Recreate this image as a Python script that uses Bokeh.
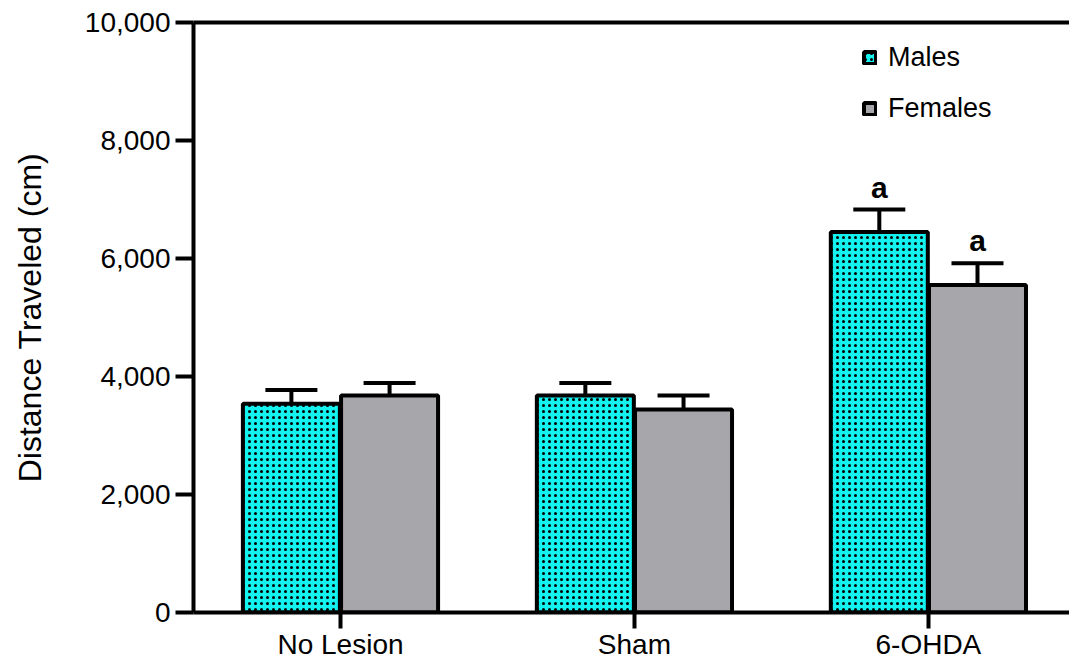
from bokeh.plotting import figure
from bokeh.models import (Range1d, FixedTicker, NumeralTickFormatter, LinearAxis,
                          Whisker, TeeHead, ColumnDataSource, Legend, LegendItem)
from bokeh.core.properties import value
from bokeh.embed import file_html
from bokeh.resources import INLINE

# Open-field locomotion by lesion group and sex
groups = ["No Lesion", "Sham", "6-OHDA"]
males_mean = [3540, 3680, 6450]
males_err_top = [3770, 3890, 6830]
females_mean = [3680, 3440, 5550]
females_err_top = [3890, 3680, 5920]
males_letters = ["", "", "a"]
females_letters = ["", "", "a"]
y_ticks = [0, 2000, 4000, 6000, 8000, 10000]

FONT = "Liberation Sans"
CYAN = "#14F2F0"
GREY = "#A7A7AB"

centers = [i + 0.5 for i in range(len(groups))]
offset = 0.167
bar_w = 0.33

p = figure(width=1069, height=664, output_backend="svg", toolbar_location=None,
           x_range=Range1d(0, 2.98), y_range=Range1d(0, 10000),
           min_border_left=193, min_border_right=0, min_border_top=22,
           min_border_bottom=52, x_axis_type=None, y_axis_type=None)
p.grid.visible = False
p.outline_line_color = None
p.background_fill_color = "white"
p.border_fill_color = "white"

males = ColumnDataSource(dict(x=[c - offset for c in centers], top=males_mean,
                              err=males_err_top, lab=males_letters))
females = ColumnDataSource(dict(x=[c + offset for c in centers], top=females_mean,
                                err=females_err_top, lab=females_letters))

# upper error bars (drawn under the bars)
for src in (males, females):
    w = Whisker(source=src, base="x", lower="top", upper="err", dimension="height",
                line_color="black", line_width=4, lower_head=None,
                upper_head=TeeHead(size=52, line_width=4, line_color="black"),
                level="underlay")
    p.add_layout(w)

rm = p.vbar(x="x", top="top", width=bar_w, source=males, fill_color=CYAN,
            line_color="black", line_width=4, hatch_pattern="dot",
            hatch_color="black", hatch_scale=6, hatch_weight=1.5)
rf = p.vbar(x="x", top="top", width=bar_w, source=females, fill_color=GREY,
            line_color="black", line_width=4)

# significance letters above error bars
for src in (males, females):
    p.text(x="x", y="err", text="lab", source=src, text_align="center",
           text_baseline="bottom", y_offset=-6, text_font=value(FONT),
           text_font_size="30px", text_font_style="bold", text_color="black")

# axes
yax = LinearAxis(ticker=FixedTicker(ticks=y_ticks),
                 formatter=NumeralTickFormatter(format="0,0"),
                 axis_label="Distance Traveled (cm)")
yax.axis_line_width = 4
yax.major_tick_line_width = 4
yax.major_tick_out = 18
yax.major_tick_in = 0
yax.minor_tick_line_color = None
yax.major_label_text_font = FONT
yax.major_label_text_font_size = "28px"
yax.major_label_text_color = "black"
yax.major_label_standoff = 5
yax.axis_label_text_font = FONT
yax.axis_label_text_font_size = "32px"
yax.axis_label_text_font_style = "normal"
yax.axis_label_text_color = "black"
yax.axis_label_standoff = 34
p.add_layout(yax, "left")

xax = LinearAxis(ticker=FixedTicker(ticks=centers),
                 major_label_overrides={c: g for c, g in zip(centers, groups)})
xax.axis_line_width = 4
xax.major_tick_line_width = 4
xax.major_tick_out = 16
xax.major_tick_in = 0
xax.minor_tick_line_color = None
xax.major_label_text_font = FONT
xax.major_label_text_font_size = "28px"
xax.major_label_text_color = "black"
xax.major_label_standoff = 0
p.add_layout(xax, "below")

top = LinearAxis(ticker=FixedTicker(ticks=[]))
top.axis_line_width = 4
top.major_tick_line_color = None
top.minor_tick_line_color = None
top.major_label_text_font_size = "0px"
p.add_layout(top, "above")

legend = Legend(items=[LegendItem(label="Males", renderers=[rm]),
                       LegendItem(label="Females", renderers=[rf])],
                location=(669, 488), orientation="vertical",
                glyph_width=15, glyph_height=15, label_standoff=11,
                label_text_font=FONT, label_text_font_size="27px",
                label_text_color="black",
                spacing=20, padding=0, margin=0,
                border_line_color=None, background_fill_alpha=0)
p.add_layout(legend, "center")

open("out.html", "w").write(file_html(p, INLINE))
